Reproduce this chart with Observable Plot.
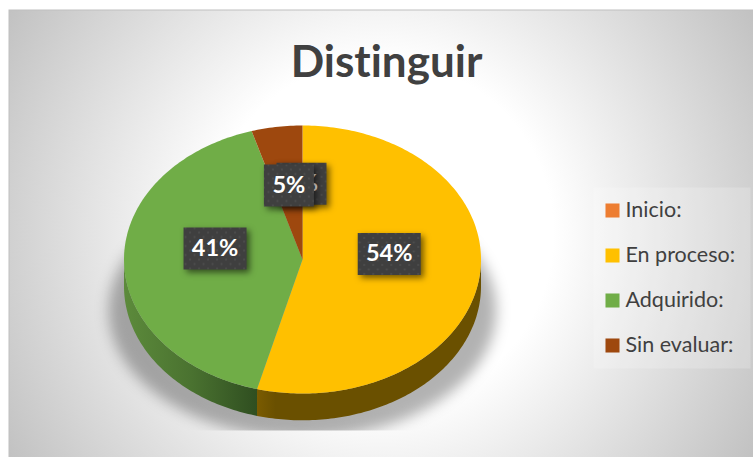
<!DOCTYPE html>
<html>
<head>
<meta charset="utf-8">
<script src="https://cdn.jsdelivr.net/npm/d3@7"></script>
<script src="https://cdn.jsdelivr.net/npm/@observablehq/plot@0.6"></script>
<style>html,body{margin:0;padding:0;background:#fff;overflow:hidden}svg{display:block}text{font-variant-ligatures:none}</style>
</head>
<body>
<div id="chart"></div>
<script>
const chartTitle = "Distinguir";
const categories = ["Inicio:", "En proceso:", "Adquirido:", "Sin evaluar:"];
const shares = [0, 54.1, 41.3, 4.6];
const colors = ["#ED7D31", "#FFC000", "#70AD47", "#9E480E"];

const depth = 0.2;
const toRad = a => a * Math.PI / 180;
let cum = 0;
const slices = categories.map((name, i) => {
  const a0 = cum * 3.6; cum += shares[i]; const a1 = cum * 3.6;
  return {name, share: shares[i], color: colors[i], a0, a1, mid: (a0 + a1) / 2};
});
const arc = (a0, a1, off = 0) => {
  const pts = [], n = Math.max(1, Math.ceil(Math.abs(a1 - a0)));
  for (let k = 0; k <= n; k++) {
    const a = toRad(a0 + (a1 - a0) * k / n);
    pts.push({x: Math.sin(a), y: Math.cos(a) - off});
  }
  return pts;
};
const topFace = slices.filter(s => s.share > 0).flatMap(s =>
  [{x: 0, y: 0}, ...arc(s.a0, s.a1), {x: 0, y: 0}].map(p => ({...p, name: s.name})));
const wall = s => {
  const a0 = Math.max(s.a0, 90), a1 = Math.min(s.a1, 270);
  return a1 > a0 ? [...arc(a0, a1), ...arc(a1, a0, depth)] : [];
};
const shadow = arc(0, 360).map(p => ({x: p.x * 1.085, y: p.y * 0.95 - 0.38}));

const defs = () => {
  const g = d3.create("svg:defs");
  const bg = g.append("radialGradient").attr("id", "bg").attr("gradientUnits", "userSpaceOnUse")
    .attr("cx", 380).attr("cy", 233).attr("r", 432);
  [[0.4, "#ffffff"], [1, "#c2c2c2"]].forEach(([o, c]) => bg.append("stop").attr("offset", o).attr("stop-color", c));
  const gw = g.append("linearGradient").attr("id", "wallGreen").attr("gradientUnits", "userSpaceOnUse")
    .attr("x1", 125).attr("x2", 257).attr("y1", 0).attr("y2", 0);
  [[0, "#5c8a3b"], [0.5, "#4a7230"], [1, "#2f4e20"]].forEach(([o, c]) => gw.append("stop").attr("offset", o).attr("stop-color", c));
  const gy = g.append("linearGradient").attr("id", "wallYellow").attr("gradientUnits", "userSpaceOnUse")
    .attr("x1", 257).attr("x2", 275).attr("y1", 0).attr("y2", 0);
  [[0, "#7a5b00"], [1, "#6a5000"]].forEach(([o, c]) => gy.append("stop").attr("offset", o).attr("stop-color", c));
  const pat = g.append("pattern").attr("id", "dots").attr("patternUnits", "userSpaceOnUse")
    .attr("width", 9).attr("height", 9);
  pat.append("rect").attr("width", 9).attr("height", 9).attr("fill", "#3f3f3f");
  pat.append("circle").attr("cx", 2).attr("cy", 2).attr("r", 1).attr("fill", "#4f4f4f");
  pat.append("circle").attr("cx", 6.5).attr("cy", 6.5).attr("r", 1).attr("fill", "#4f4f4f");
  const cp = g.append("clipPath").attr("id", "shadowClip");
  cp.append("rect").attr("x", 0).attr("y", 0).attr("width", 753).attr("height", 430);
  return g.node();
};

const box = w => ({draw(ctx) { ctx.rect(-w / 2, -21, w, 42); }});
const labelShiftX = [-1, 0, 0, -1];
const labelShiftY = [-10, -14, -12, -9];
const labelMarks = [0, 1, 2, 3].map(i => {
  const s = slices[i], text = `${Math.round(s.share)}%`;
  const datum = [{x: 0.49 * Math.sin(toRad(s.mid)), y: 0.49 * Math.cos(toRad(s.mid)), text}];
  const w = text.length > 2 ? 63 : 50;
  const dx = labelShiftX[i], dy = labelShiftY[i];
  return [
    Plot.dot(datum, {x: "x", y: "y", dx, dy, symbol: box(w), r: 10, fill: "url(#dots)", stroke: "none",
      imageFilter: "drop-shadow(3px 3px 3px rgba(0,0,0,0.55))"}),
    Plot.text(datum, {x: "x", y: "y", dx, dy, text: "text", fill: "#fff", fontSize: 23.5, fontWeight: 700,
      fontFamily: "Lato"})
  ];
});

const legendMarks = categories.map((name, i) => [
  Plot.dot([name], {frameAnchor: "top-left", dx: 612, dy: 210 + 45 * i, symbol: "square", r: 7 * 1.13,
    fill: colors[i], stroke: "none"}),
  Plot.text([name], {frameAnchor: "top-left", dx: 625, dy: 210 + 45 * i, text: d => d, textAnchor: "start",
    lineAnchor: "middle", fontSize: 21.5, fontFamily: "Lato", fill: "#404040"})
]);

const svg = Plot.plot({
  width: 753, height: 457, margin: 0,
  style: {background: "#fff", fontFamily: "Lato"},
  x: {domain: [-1, 1], range: [123.5, 480.5], axis: null},
  y: {domain: [-1, 1], range: [393, 125], axis: null},
  color: {domain: categories, range: colors},
  marks: [
    defs,
    Plot.frame({fill: "url(#bg)", stroke: "#c0c0c0", insetLeft: 8.5, insetTop: 9.5, insetRight: -2, insetBottom: -2}),
    Plot.line(shadow, {x: "x", y: "y", fill: "#000", fillOpacity: 0.3, stroke: "none", className: "pie-shadow",
      imageFilter: "blur(7px)"}),
    Plot.line(wall(slices[2]), {x: "x", y: "y", fill: "url(#wallGreen)", stroke: "none"}),
    Plot.line(wall(slices[1]), {x: "x", y: "y", fill: "url(#wallYellow)", stroke: "none"}),
    Plot.line(topFace, {x: "x", y: "y", z: "name", fill: "name", stroke: "none"}),
    labelMarks,
    Plot.frame({fill: "#fff", fillOpacity: 0.2, stroke: "none", insetLeft: 593, insetTop: 187, insetRight: 3, insetBottom: 89}),
    legendMarks,
    Plot.text([chartTitle], {frameAnchor: "top-left", dx: 386, dy: 62, text: d => d, textAnchor: "middle",
      lineAnchor: "middle", fontSize: 44, fontWeight: 700, fontFamily: "Lato", fill: "#404040"})
  ]
});
d3.select(svg).selectAll(".pie-shadow").style("clip-path", "url(#shadowClip)");
document.getElementById("chart").appendChild(svg);
</script>
</body>
</html>
